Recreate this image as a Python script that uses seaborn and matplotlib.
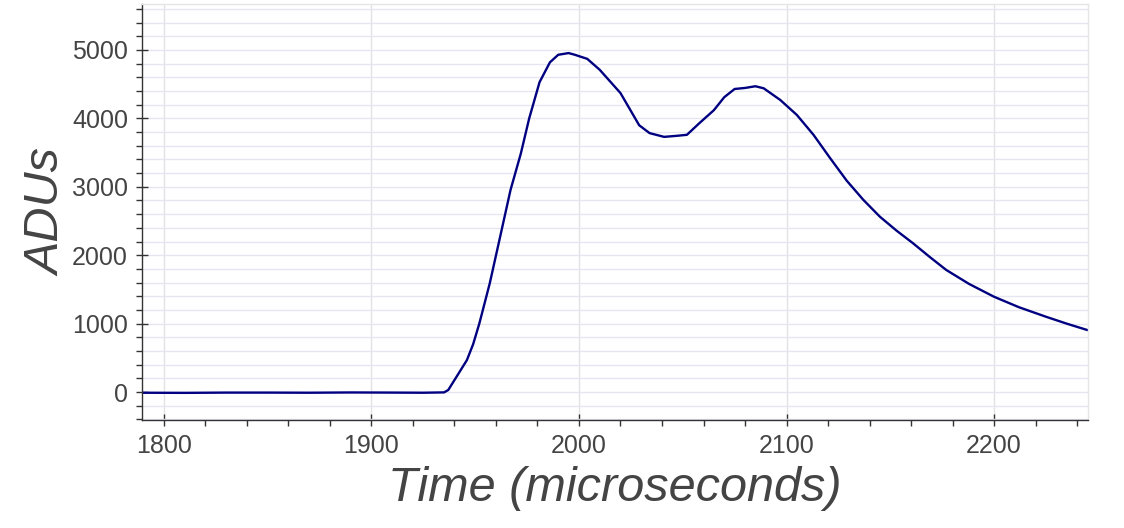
import numpy as np
import pandas as pd
import matplotlib.pyplot as plt
from matplotlib.ticker import MultipleLocator
import seaborn as sns

# trace (time in microseconds, signal in ADUs)
time_us = [1789, 1810, 1830, 1850, 1870, 1890, 1910, 1925, 1935, 1937,
           1941, 1946, 1949, 1952, 1957, 1962, 1967, 1972, 1976, 1981,
           1986, 1990, 1995, 1998, 2001, 2004, 2010, 2020, 2029, 2034,
           2041, 2047, 2052, 2058, 2065, 2070, 2075, 2080, 2085, 2089,
           2097, 2105, 2113, 2121, 2129, 2137, 2145, 2153, 2161, 2169,
           2177, 2188, 2200, 2212, 2225, 2235, 2245]
adu = [-10, -12, -8, -8, -10, -6, -8, -10, -5, 30,
       224, 468, 700, 1004, 1589, 2270, 2953, 3490, 4000, 4530,
       4820, 4930, 4955, 4930, 4900, 4870, 4710, 4370, 3900, 3785,
       3730, 3745, 3760, 3930, 4120, 4310, 4430, 4445, 4470, 4440,
       4269, 4050, 3760, 3420, 3090, 2810, 2563, 2360, 2174, 1975,
       1784, 1580, 1393, 1240, 1101, 1000, 906]

df = pd.DataFrame({"time": time_us, "adu": adu})

sns.set_style("white")
plt.rcParams["font.family"] = ["Liberation Sans", "DejaVu Sans"]

fig = plt.figure(figsize=(11.24, 5.28), dpi=100)
ax = fig.add_axes([0.1263, 0.2045, 0.9680 - 0.1263, 0.9924 - 0.2045])

sns.lineplot(data=df, x="time", y="adu", ax=ax, color="#000080", linewidth=1.7)

ax.set_xlim(1789.4, 2245.3)
ax.set_ylim(-409, 5672)

ax.xaxis.set_major_locator(MultipleLocator(100))
ax.xaxis.set_minor_locator(MultipleLocator(20))
ax.yaxis.set_major_locator(MultipleLocator(1000))
ax.yaxis.set_minor_locator(MultipleLocator(200))

# grid: vertical major in grey, horizontal in light navy
ax.grid(axis="x", which="major", color="#e2e2e6", linewidth=1)
ax.grid(axis="y", which="both", color="#e6e6f3", linewidth=1)
ax.set_axisbelow(True)

for side in ["top", "right"]:
    ax.spines[side].set_color("#e5e5e5")
    ax.spines[side].set_linewidth(1)
for side in ["left", "bottom"]:
    ax.spines[side].set_color("#333333")
    ax.spines[side].set_linewidth(1)

ax.tick_params(which="major", direction="inout", length=8, width=1,
               color="#333333", labelsize=18, labelcolor="#444444")
ax.tick_params(which="minor", direction="out", length=4, width=1, color="#333333")
ax.tick_params(axis="x", which="both", bottom=True)
ax.tick_params(axis="x", which="major", pad=6)
ax.tick_params(axis="y", which="both", left=True)
ax.tick_params(axis="y", which="major", pad=6)

ax.set_xlabel("Time (microseconds)", fontsize=35, style="italic",
              color="#444444", labelpad=6)
ax.set_ylabel("ADUs", fontsize=35, style="italic", color="#444444", labelpad=1)

plt.savefig("out.png", dpi=100)
